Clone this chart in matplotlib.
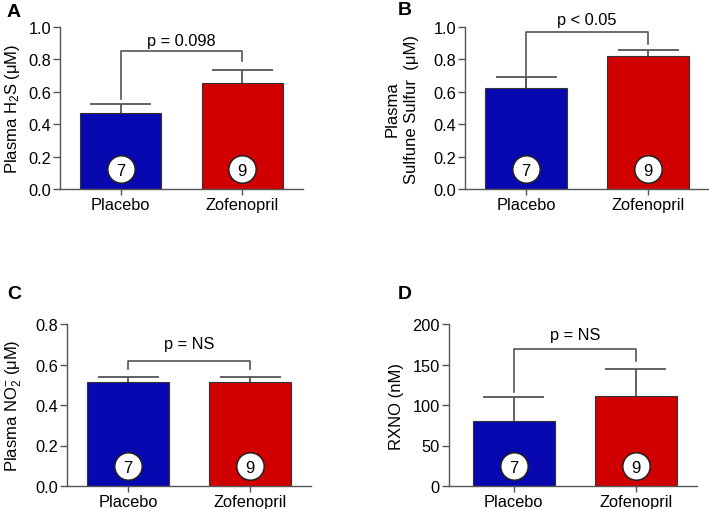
import matplotlib
matplotlib.use("Agg")
import matplotlib.pyplot as plt
from matplotlib.ticker import FormatStrFormatter

plt.rcParams['font.family'] = ['Liberation Sans', 'DejaVu Sans']
plt.rcParams['mathtext.fontset'] = 'custom'
plt.rcParams['mathtext.rm'] = 'Liberation Sans'
plt.rcParams['mathtext.it'] = 'Liberation Sans:italic'
plt.rcParams['mathtext.bf'] = 'Liberation Sans:bold'

categories = ["Placebo", "Zofenopril"]
group_n = ["7", "9"]

h2s_mean = [0.468, 0.657]
h2s_err = [0.056, 0.078]

sulfane_mean = [0.622, 0.818]
sulfane_err = [0.070, 0.039]

no2_mean = [0.512, 0.512]
no2_err = [0.028, 0.025]

rxno_mean = [80.5, 110.5]
rxno_err = [29.0, 34.5]

p_texts = ["p = 0.098", "p < 0.05", "p = NS", "p = NS"]

BLUE = "#0808B0"
RED = "#D00000"
AX = "#555555"
FS = 11.8

fig = plt.figure(figsize=(7.09, 5.10), dpi=100)

W, H = 709, 510
def rect(l, r, top, bot):
    return [l / W, 1 - bot / H, (r - l) / W, (bot - top) / H]

panels = [
    dict(rect=rect(60, 303, 28, 190), mean=h2s_mean, err=h2s_err, ymax=1.0, yticks=[0, 0.2, 0.4, 0.6, 0.8, 1.0],
         fmt="%.1f", ylabel="Plasma H$\\mathregular{_2}$S (\u03bcM)", letter="A", xlim=(-0.5, 1.5),
         br=(0.854, 0.556, 0.79), ptext_y=0.872, label_xy=(7, 4), ylab_x=3),
    dict(rect=rect(465, 709, 28, 190), mean=sulfane_mean, err=sulfane_err, ymax=1.0, yticks=[0, 0.2, 0.4, 0.6, 0.8, 1.0],
         fmt="%.1f", ylabel="Plasma\nSulfune Sulfur  (\u03bcM)", letter="B", xlim=(-0.5, 1.5),
         br=(0.967, 0.628, 0.895), ptext_y=1.0, label_xy=(398, 2), ylab_x=385),
    dict(rect=rect(67, 311, 325, 487), mean=no2_mean, err=no2_err, ymax=0.8, yticks=[0, 0.2, 0.4, 0.6, 0.8],
         fmt="%.1f", ylabel="Plasma NO$\\mathregular{_2^{-}}$ (\u03bcM)", letter="C", xlim=(-0.5, 1.5),
         br=(0.617, 0.578, 0.578), ptext_y=0.665, label_xy=(7, 286), ylab_x=3),
    dict(rect=rect(449, 697, 325, 487), mean=rxno_mean, err=rxno_err, ymax=200, yticks=[0, 50, 100, 150, 200],
         fmt="%d", ylabel="RXNO (nM)", letter="D", xlim=(-0.53, 1.5),
         br=(169, 116, 154), ptext_y=178, label_xy=(398, 286), ylab_x=389),
]

for i, p in enumerate(panels):
    ax = fig.add_axes(p["rect"])
    x = [0, 1]
    ax.bar(x, p["mean"], width=0.67, color=[BLUE, RED], edgecolor="#333333", linewidth=0.8, zorder=2)
    tops = [m + e for m, e in zip(p["mean"], p["err"])]
    ax.vlines(x, p["mean"], tops, color=AX, lw=1.3, zorder=1)
    ax.hlines(tops, [xi - 0.25 for xi in x], [xi + 0.25 for xi in x], color=AX, lw=1.3, zorder=1)
    ymax = p["ymax"]
    ax.scatter(x, [0.123 * ymax] * 2, s=390, facecolor="white", edgecolor="#222222", linewidth=1.1, zorder=4)
    for xi, n in zip(x, group_n):
        ax.text(xi, 0.117 * ymax, n, ha="center", va="center", fontsize=12, zorder=5)
    yb, yl, yr = p["br"]
    ax.plot([0, 0, 1, 1], [yl, yb, yb, yr], color=AX, lw=1.2, clip_on=False, zorder=3)
    ax.text(0.5, p["ptext_y"], p_texts[i], ha="center", va="bottom", fontsize=FS, clip_on=False)
    ax.set_xlim(*p["xlim"])
    ax.set_ylim(0, ymax)
    ax.set_yticks(p["yticks"])
    ax.yaxis.set_major_formatter(FormatStrFormatter(p["fmt"]))
    ax.set_xticks(x)
    ax.set_xticklabels(categories, fontsize=FS)
    ax.tick_params(axis="y", labelsize=FS, length=5, width=1.0, color=AX, direction="out", pad=1.5)
    ax.tick_params(axis="x", length=4, width=1.0, color=AX, direction="out", pad=1.5)
    for s in ["top", "right"]:
        ax.spines[s].set_visible(False)
    for s in ["left", "bottom"]:
        ax.spines[s].set_color(AX)
        ax.spines[s].set_linewidth(1.0)
    ax.patch.set_visible(False)
    fig.text(p["ylab_x"] / W, p["rect"][1] + p["rect"][3] / 2, p["ylabel"], rotation=90,
             ha="left", va="center", fontsize=12, multialignment="center", linespacing=1.3)
    lx, ly = p["label_xy"]
    fig.text(lx / W, 1 - ly / H, p["letter"], ha="left", va="top", fontsize=14, fontweight="bold")

fig.savefig("out.png", dpi=100)
